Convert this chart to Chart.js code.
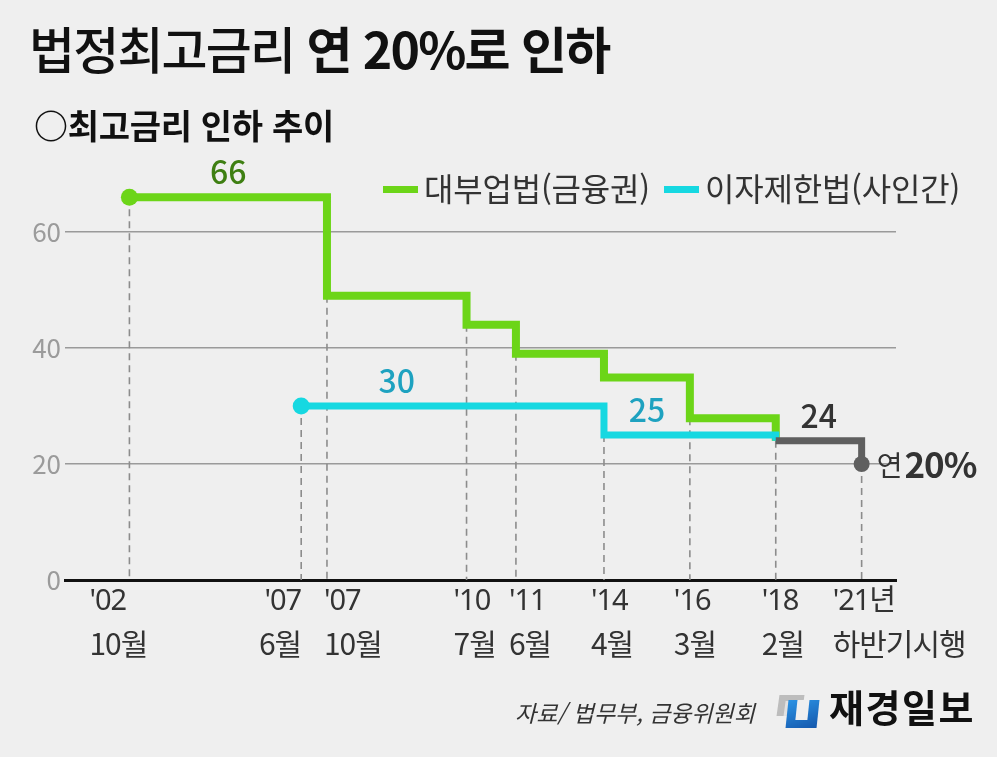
<!DOCTYPE html>
<html lang="ko">
<head>
<meta charset="utf-8">
<title>법정최고금리 연 20%로 인하</title>
<script src="https://cdn.jsdelivr.net/npm/chart.js@4.4.1/dist/chart.umd.min.js"></script>
<style>
  html, body { margin: 0; padding: 0; background: #efefef; }
  body {
    width: 997px; height: 757px; position: relative; overflow: hidden;
    font-family: "Noto Sans CJK KR", "Noto Sans", sans-serif; color: #111;
  }
  #chartBox { position: absolute; left: 0; top: 0; width: 997px; height: 757px; }
  .title {
    position: absolute; left: 29px; top: 22px; font-size: 50px; line-height: 1;
    font-weight: 500; letter-spacing: -1.8px; white-space: nowrap;
  }
  .title b { font-weight: 700; }
  .sub {
    position: absolute; left: 34px; top: 108px; font-size: 34px; line-height: 1;
    font-weight: 700; letter-spacing: -0.3px; white-space: nowrap;
  }
  #legend {
    position: absolute; left: 383px; top: 171px; display: flex; align-items: center;
    font-size: 32px; line-height: 1; color: #333; white-space: nowrap; letter-spacing: -0.2px;
  }
  #legend .item { display: flex; align-items: center; }
  #legend .item + .item { margin-left: 14px; }
  #legend .mark { display: inline-block; width: 35px; height: 7px; margin-right: 6px; position: relative; top: 2px; }
  .source {
    position: absolute; left: 515px; top: 701px; font-size: 23px; line-height: 1;
    font-style: italic; color: #333; white-space: nowrap;
  }
  .logo-text {
    position: absolute; left: 829px; top: 687px; font-size: 38px; line-height: 1;
    font-weight: 700; letter-spacing: 1.5px; color: #111; white-space: nowrap;
  }
  .logo-back { position: absolute; left: 778px; top: 695px; width: 25px; height: 21px; background: #bdbdbd; transform: skewX(-8deg); }
  .logo-back::after { content: ""; position: absolute; left: 7px; top: 6px; width: 11px; height: 15px; background: #e2e2e2; }
  .logo-front { position: absolute; left: 787px; top: 700px; width: 31px; height: 28px; background: linear-gradient(160deg, #2c93e4, #1458ad); transform: skewX(-6deg); }
  .logo-front::after { content: ""; position: absolute; left: 9px; top: 0; width: 12px; height: 20px; background: #efefef; }
</style>
</head>
<body>
<div id="chartBox"><canvas id="rateChart"></canvas></div>
<div class="title">법정최고금리 <b>연 20%로 인하</b></div>
<div class="sub">○최고금리 인하 추이</div>
<div id="legend"></div>
<div class="source">자료/ 법무부, 금융위원회</div>
<div class="logo-back"></div>
<div class="logo-front"></div>
<div class="logo-text">재경일보</div>

<script>
// dates on the x axis (two lines each)
const yearLabels  = ["'02", "'07", "'07", "'10", "'11", "'14", "'16", "'18", "'21년"];
const monthLabels = ["10월", "6월", "10월", "7월", "6월", "4월", "3월", "2월", "하반기시행"];
// where each date sits on the picture's (unevenly spaced) timeline
const timeline = [0, 4, 4.6, 7.85, 9, 11.05, 13.05, 15.05, 17.05];

// rate in % from each date on, null = no change at that date
const loanBizRates = [66, null, 49, 44, 39, 34.9, 27.9, 24, null];     // 대부업법(금융권)
const privateRates = [null, 30, null, null, null, 25, null, 24, null]; // 이자제한법(사인간)
const unifiedRates = [null, null, null, null, null, null, null, 24, 20]; // both laws together

const yTicks = [0, 20, 40, 60];

// value callouts: value, and the two dates it is centred between
const calloutValues = [66, 30, 25, 24];
const calloutFrom = [0, 2, 5, 7];
const calloutTo = [2, 3, 6, 8];

const GREEN = '#6cd518';
const CYAN = '#16d8e1';
const GREY = '#5f5f5f';
const FONT = '"Noto Sans CJK KR", "Noto Sans", sans-serif';
const YEAR_FONT = '"Noto Sans", "Noto Sans CJK KR", sans-serif';

// label placement under the axis
const tickAlign = ['left', 'right', 'left', 'left', 'left', 'left', 'left', 'left', 'left'];
const tickShift = [-40, 0, -3, -13, -7, -13, -16, -14, -29];
const calloutColors = ['#3e7f12', '#1ea2c0', '#1ea2c0', '#333333'];

function toPoints(values) {
    return values
        .map((v, i) => v === null ? null : { x: timeline[i], y: v })
        .filter(p => p !== null);
}

// dashed drop lines, from the lowest new value at a date down to 0
const guideSets = timeline.map((t, i) => {
    const vals = [loanBizRates[i], privateRates[i], unifiedRates[i]].filter(v => v !== null);
    return {
        label: 'guide',
        data: [{ x: t, y: Math.min(...vals) }, { x: t, y: 0 }],
        borderColor: '#8c8c8c',
        borderWidth: 1.6,
        borderDash: [7, 5],
        pointRadius: 0,
        order: 10
    };
});

const lineSets = [
    {
        label: '대부업법(금융권)',
        inLegend: true,
        data: toPoints(loanBizRates),
        borderColor: GREEN,
        backgroundColor: GREEN,
        borderWidth: 8,
        stepped: true,
        borderJoinStyle: 'miter',
        pointRadius: c => c.dataIndex === 0 ? 8.5 : 0,
        pointBorderWidth: 0,
        order: 3
    },
    {
        label: '이자제한법(사인간)',
        inLegend: true,
        data: toPoints(privateRates),
        borderColor: CYAN,
        backgroundColor: CYAN,
        borderWidth: 7,
        stepped: true,
        borderJoinStyle: 'miter',
        pointRadius: c => c.dataIndex === 0 ? 8.5 : 0,
        pointBorderWidth: 0,
        order: 2
    },
    {
        label: '공통',
        data: toPoints(unifiedRates),
        borderColor: GREY,
        backgroundColor: GREY,
        borderWidth: 7,
        stepped: true,
        borderJoinStyle: 'miter',
        pointRadius: c => c.dataIndex === c.dataset.data.length - 1 ? 8 : 0,
        pointBorderWidth: 0,
        order: 1
    }
];

const textPlugin = {
    id: 'chartTexts',
    afterDatasetsDraw(chart) {
        const ctx = chart.ctx;
        const xs = chart.scales.x;
        const ys = chart.scales.y;
        ctx.save();
        ctx.textBaseline = 'middle';

        // two-line date labels
        ctx.fillStyle = '#333';
        ctx.letterSpacing = '-1px';
        timeline.forEach((t, i) => {
            const px = xs.getPixelForValue(t) + tickShift[i];
            ctx.textAlign = tickAlign[i];
            ctx.font = '29px ' + YEAR_FONT;
            ctx.fillText(yearLabels[i], px, ys.bottom + 22);
            ctx.font = '30px ' + FONT;
            ctx.fillText(monthLabels[i], px, ys.bottom + 64);
        });
        ctx.letterSpacing = '0px';

        // value callouts above the steps
        ctx.textAlign = 'center';
        ctx.font = '500 32px ' + FONT;
        calloutValues.forEach((v, i) => {
            const px = (xs.getPixelForValue(timeline[calloutFrom[i]]) + xs.getPixelForValue(timeline[calloutTo[i]])) / 2;
            ctx.fillStyle = calloutColors[i];
            ctx.fillText(String(v), px, ys.getPixelForValue(v) - 25);
        });

        // end label next to the last point
        const last = unifiedRates.length - 1;
        const ex = xs.getPixelForValue(timeline[last]) + 15;
        const ey = ys.getPixelForValue(unifiedRates[last]) + 1;
        ctx.textAlign = 'left';
        ctx.fillStyle = '#333';
        ctx.font = '28px ' + FONT;
        ctx.fillText('연', ex, ey);
        const w = ctx.measureText('연').width;
        ctx.font = 'bold 35px ' + FONT;
        ctx.letterSpacing = '-1px';
        ctx.fillText(unifiedRates[last] + '%', ex + w + 2, ey);
        ctx.restore();
    }
};

Chart.defaults.font.family = FONT;

const chart = new Chart(document.getElementById('rateChart'), {
    type: 'line',
    data: { datasets: [...guideSets, ...lineSets] },
    options: {
        responsive: true,
        maintainAspectRatio: false,
        animation: false,
        layout: { padding: { left: 0, right: 101, top: 174, bottom: 177 } },
        plugins: {
            legend: { display: false },
            tooltip: { enabled: false }
        },
        scales: {
            x: {
                type: 'linear',
                min: -1.5,
                max: 17.85,
                afterFit: s => { s.height = 0; },
                ticks: { display: false },
                grid: { display: false },
                border: { display: true, color: '#111', width: 3 }
            },
            y: {
                min: 0,
                max: 70,
                afterFit: s => { s.width = 65; },
                afterBuildTicks: s => { s.ticks = yTicks.map(v => ({ value: v })); },
                ticks: { color: '#9b9b9b', font: { size: 26 }, padding: 4 },
                grid: {
                    drawTicks: false,
                    lineWidth: 1.5,
                    color: c => c.tick && c.tick.value === 0 ? 'rgba(0,0,0,0)' : '#9a9a9a'
                },
                border: { display: false }
            }
        }
    },
    plugins: [textPlugin]
});

// legend built from the chart's own datasets
const legendBox = document.getElementById('legend');
chart.data.datasets.filter(d => d.inLegend).forEach(d => {
    const item = document.createElement('span');
    item.className = 'item';
    const mark = document.createElement('span');
    mark.className = 'mark';
    mark.style.background = d.borderColor;
    item.appendChild(mark);
    item.appendChild(document.createTextNode(d.label));
    legendBox.appendChild(item);
});
</script>
</body>
</html>
